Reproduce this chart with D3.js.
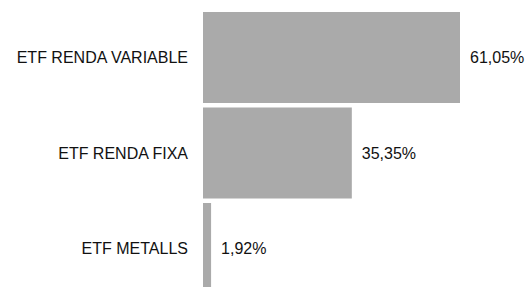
<!DOCTYPE html>
<html>
<head>
<meta charset="utf-8">
<script src="https://cdn.jsdelivr.net/npm/d3@7"></script>
<style>
  body { margin: 0; background: #fff; }
  svg { display: block; font-family: "Liberation Sans", Arial, Helvetica, sans-serif; }
</style>
</head>
<body>
<svg id="chart"></svg>
<script>
// 数据
const categories = ["ETF RENDA VARIABLE", "ETF RENDA FIXA", "ETF METALLS"];
const values = [61.05, 35.35, 1.92];
const valueLabels = ["61,05%", "35,35%", "1,92%"];

const width = 528;
const height = 287;
const barLeft = 203;

const svg = d3.select("#chart")
    .attr("width", width)
    .attr("height", height);

// 比例尺
const x = d3.scaleLinear()
    .domain([0, d3.max(values)])
    .range([barLeft, 460]);

const y = d3.scaleBand()
    .domain(categories)
    .range([9.75, 296.25])
    .paddingInner(0.047)
    .paddingOuter(0.0235);

const rows = categories.map((c, i) => ({ cat: c, value: values[i], label: valueLabels[i] }));

// 条形
svg.selectAll(".bar")
    .data(rows)
    .enter()
    .append("rect")
    .attr("class", "bar")
    .attr("x", x(0))
    .attr("y", d => y(d.cat))
    .attr("width", d => x(d.value) - x(0))
    .attr("height", y.bandwidth())
    .attr("fill", "#aaaaaa");

// 类别标签
svg.selectAll(".cat-label")
    .data(rows)
    .enter()
    .append("text")
    .attr("class", "cat-label")
    .attr("x", barLeft - 15)
    .attr("y", d => y(d.cat) + y.bandwidth() / 2)
    .attr("dy", "0.35em")
    .attr("text-anchor", "end")
    .attr("font-size", "16px")
    .attr("fill", "#111")
    .text(d => d.cat);

// 数值标签
svg.selectAll(".val-label")
    .data(rows)
    .enter()
    .append("text")
    .attr("class", "val-label")
    .attr("x", d => x(d.value) + 10)
    .attr("y", d => y(d.cat) + y.bandwidth() / 2)
    .attr("dy", "0.35em")
    .attr("font-size", "16px")
    .attr("fill", "#111")
    .text(d => d.label);
</script>
</body>
</html>
